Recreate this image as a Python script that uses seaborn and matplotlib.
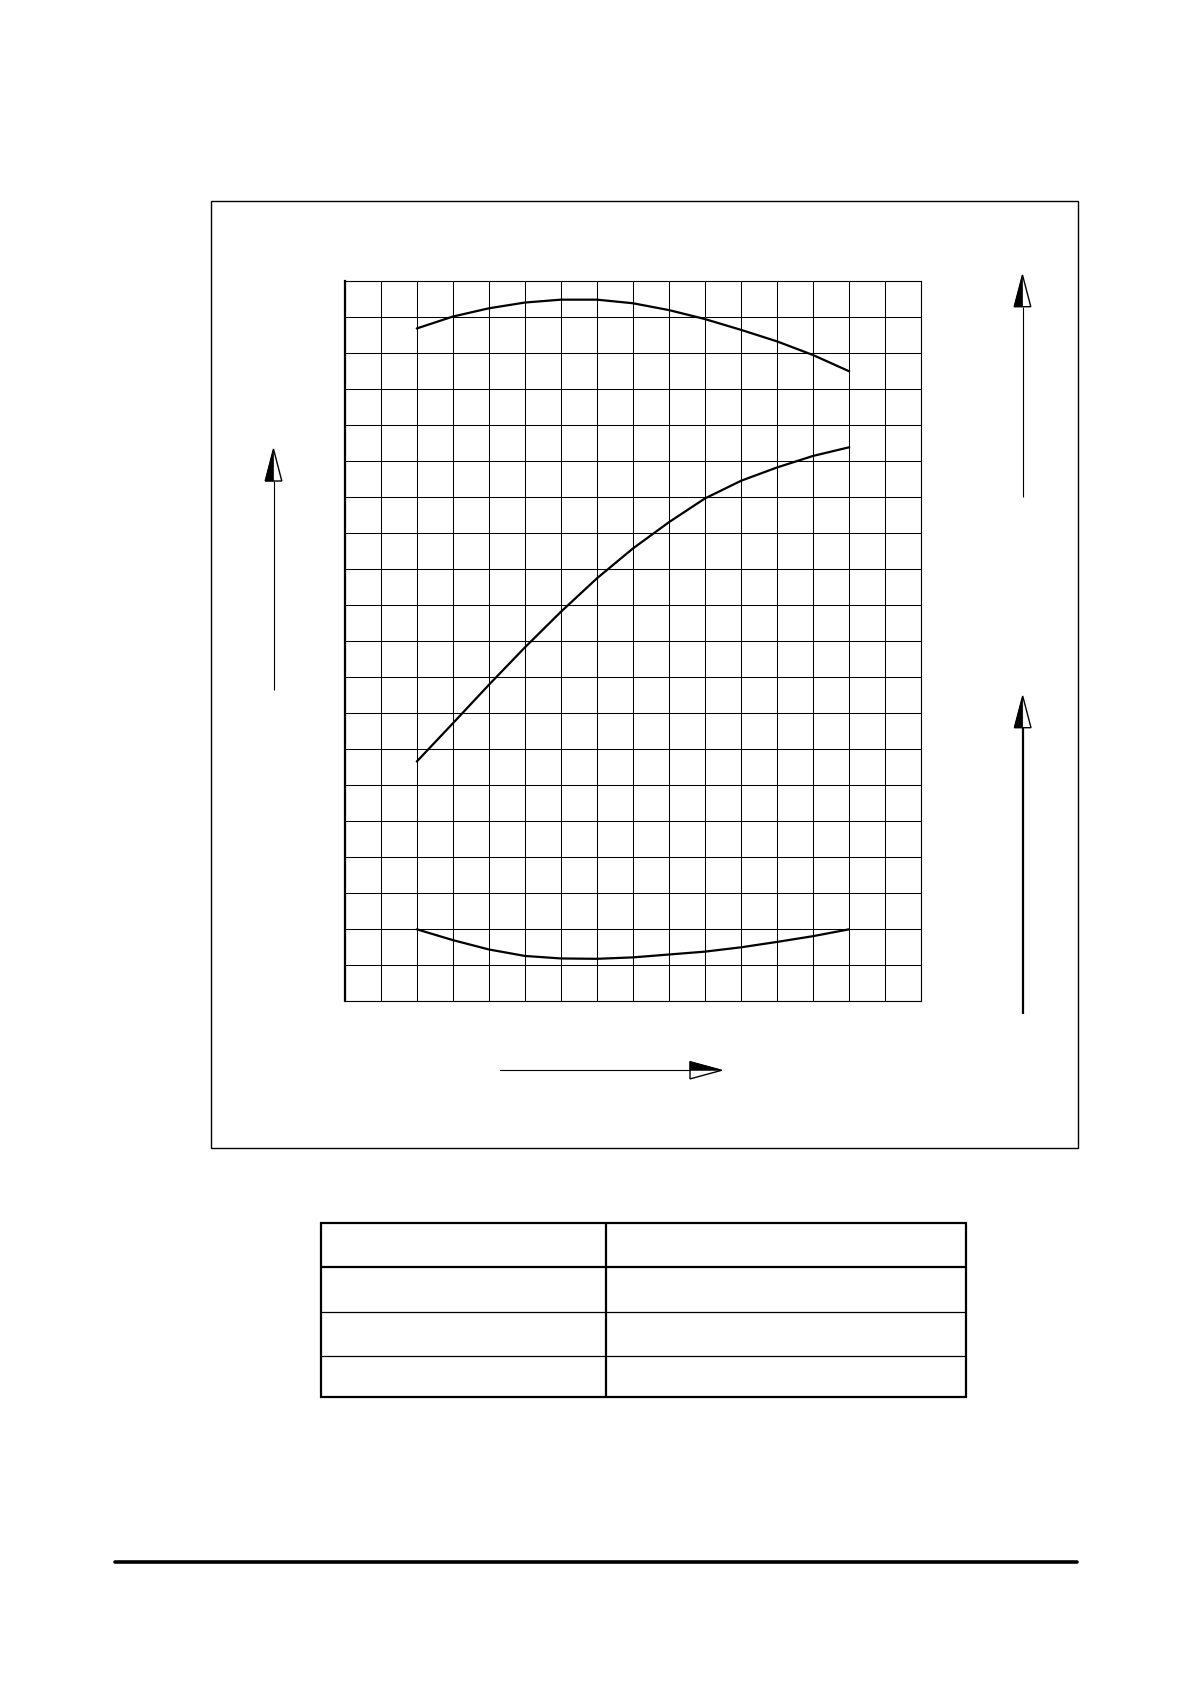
import pandas as pd
import matplotlib
matplotlib.use('Agg')
import matplotlib.pyplot as plt
import seaborn as sns
from matplotlib.patches import Rectangle, Polygon

# 曲线数据（按网格读数，x: 0~16 格，y: 0~20 格）
cols = [2, 3, 4, 5, 6, 7, 8, 9, 10, 11, 12, 13, 14]
upper_curve = [18.69, 19.02, 19.25, 19.41, 19.49, 19.49, 19.39, 19.20, 18.95, 18.65, 18.33, 17.95, 17.50]
middle_curve = [6.66, 7.72, 8.79, 9.83, 10.82, 11.75, 12.58, 13.31, 13.97, 14.46, 14.83, 15.15, 15.39]
lower_curve = [2.00, 1.70, 1.44, 1.26, 1.19, 1.18, 1.22, 1.30, 1.38, 1.50, 1.65, 1.81, 2.00]

df = pd.concat([
    pd.DataFrame({'x': cols, 'y': upper_curve, 'curve': 'upper'}),
    pd.DataFrame({'x': cols, 'y': middle_curve, 'curve': 'middle'}),
    pd.DataFrame({'x': cols, 'y': lower_curve, 'curve': 'lower'}),
])

sns.set_style('white')
plt.rcParams['font.family'] = ['DejaVu Sans']

W, H = 1190, 1682
fig = plt.figure(figsize=(W / 100, H / 100), dpi=100)

# 背景层：外框、箭头、表格（像素坐标）
bg = fig.add_axes([0, 0, 1, 1])
bg.set_xlim(0, W)
bg.set_ylim(H, 0)
bg.axis('off')

bg.add_patch(Rectangle((211.3, 201.3), 1078 - 211.3, 1148.3 - 201.3,
                       fill=False, ec='black', lw=1.0))


def up_arrow(x, y0, tip, base, lw=0.8):
    bg.plot([x, x], [y0, base], color='black', lw=lw, solid_capstyle='butt')
    bg.add_patch(Polygon([(x, tip), (x - 8.3, base), (x + 8.3, base)],
                         closed=True, fc='white', ec='black', lw=1.0))
    bg.add_patch(Polygon([(x, tip), (x - 8.3, base), (x, base)],
                         closed=True, fc='black', ec='black', lw=0.5))


up_arrow(273.5, 690.4, 449, 481)
up_arrow(1022.5, 497, 275, 306.7)
up_arrow(1022.7, 1014, 696, 727.7, lw=1.6)

# 水平箭头
bg.plot([500, 690], [1070.3, 1070.3], color='black', lw=0.8)
bg.add_patch(Polygon([(721.7, 1070.3), (690, 1061.7), (690, 1078.9)],
                     closed=True, fc='white', ec='black', lw=1.0))
bg.add_patch(Polygon([(721.7, 1070.3), (690, 1061.7), (690, 1070.3)],
                     closed=True, fc='black', ec='black', lw=0.5))

# 表格（空白）
tl, tr, tt, tb = 321, 965.5, 1222.7, 1396.7
bg.add_patch(Rectangle((tl, tt), tr - tl, tb - tt, fill=False, ec='black', lw=1.6))
bg.plot([605.8, 605.8], [tt, tb], color='black', lw=1.6)
bg.plot([tl, tr], [1266.7, 1266.7], color='black', lw=1.6)
for yy in [1312.3, 1356.3]:
    bg.plot([tl, tr], [yy, yy], color='black', lw=0.9)

# 页脚粗线
bg.plot([115, 1077], [1562.3, 1562.3], color='black', lw=2.6)

# 曲线网格
gl, gr, gt, gb = 344.7, 921.3, 281.3, 1001.3
ax = fig.add_axes([gl / W, 1 - gb / H, (gr - gl) / W, (gb - gt) / H])
sns.lineplot(data=df, x='x', y='y', hue='curve', palette=['black'] * 3,
             lw=1.6, legend=False, sort=False, ax=ax)
ax.set_xlim(0, 16)
ax.set_ylim(0, 20)
ax.set_xticks(range(17))
ax.set_yticks(range(21))
ax.grid(True, color='black', lw=0.75)
ax.tick_params(length=0, labelbottom=False, labelleft=False)
ax.set_xlabel('')
ax.set_ylabel('')
ax.set_facecolor('none')
for name, sp in ax.spines.items():
    sp.set_color('black')
    sp.set_linewidth(0.8)
ax.spines['left'].set_linewidth(1.6)

fig.savefig('out.png', dpi=100, facecolor='white')
